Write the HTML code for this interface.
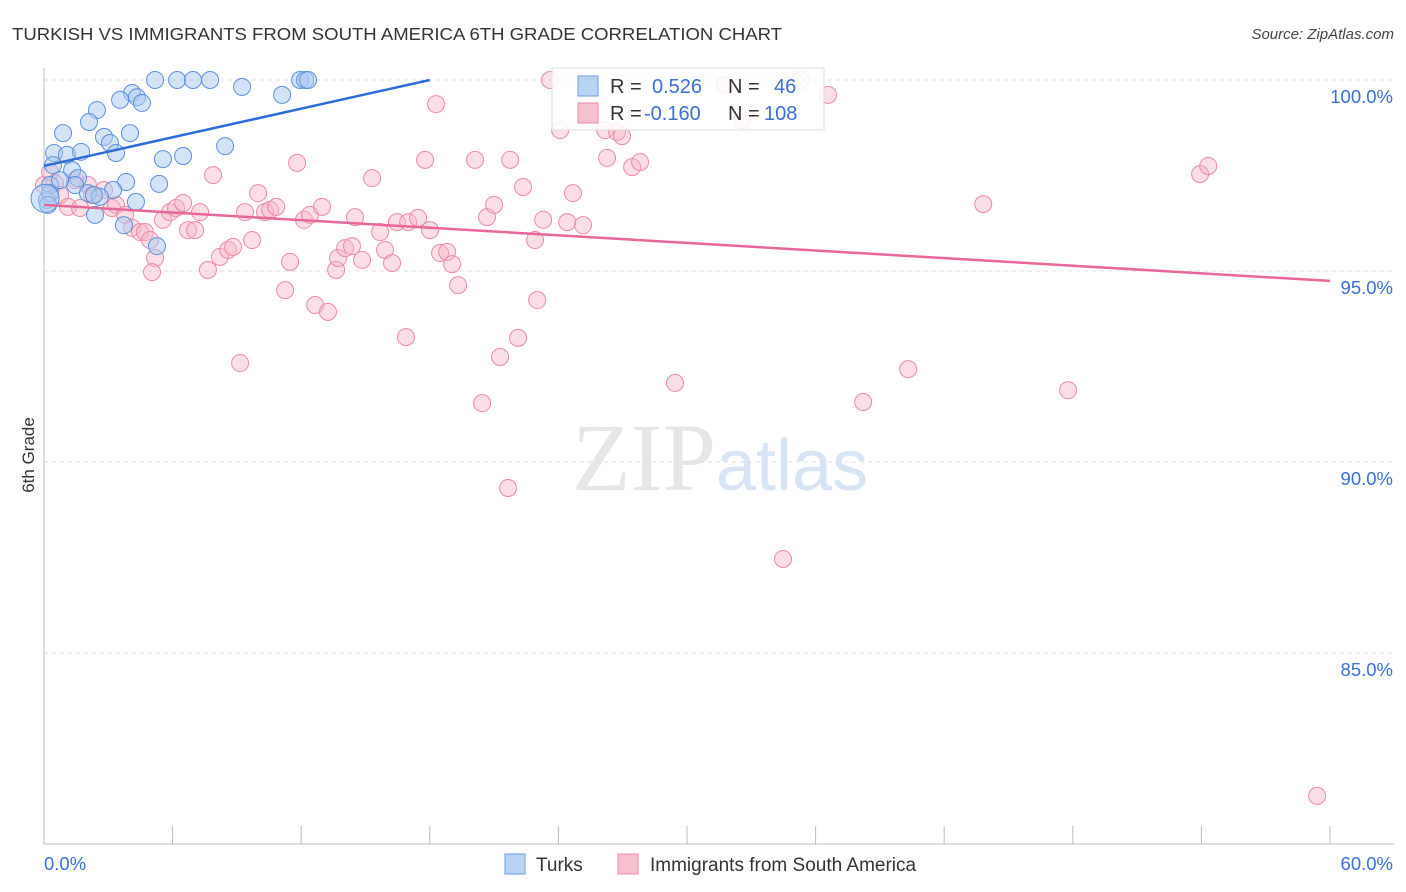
<!DOCTYPE html>
<html><head><meta charset="utf-8"><style>
body{margin:0;background:#fff;font-family:"Liberation Sans",sans-serif;}
svg{display:block}
</style></head><body>
<svg width="1406" height="892" xmlns="http://www.w3.org/2000/svg" id="chart">
<text x="12" y="40" font-size="17.5" fill="#333" textLength="770" lengthAdjust="spacingAndGlyphs">TURKISH VS IMMIGRANTS FROM SOUTH AMERICA 6TH GRADE CORRELATION CHART</text>
<text x="1394" y="39" font-size="15" fill="#444" font-style="italic" text-anchor="end">Source: ZipAtlas.com</text>
<text x="716" y="490" font-size="96" fill="#e6e6e6" text-anchor="end" font-family="Liberation Serif">ZIP</text>
<text x="716" y="490" font-size="72" fill="#d6e4f5">atlas</text>
<g id="grid"></g>
<g id="axes"></g>
<g id="pts"></g>
<g id="lines"></g>
<text x="34" y="455" font-size="17" fill="#333" text-anchor="middle" transform="rotate(-90 34 455)">6th Grade</text>
<g>
<rect x="552" y="68" width="272" height="62" fill="#fff" fill-opacity="0.85" stroke="#ddd"/>
<rect x="578" y="76" width="20" height="20" fill="#b8d4f5" stroke="#6a9de0"/>
<rect x="578" y="103" width="20" height="20" fill="#f9c0d0" stroke="#ec8aa8"/>
<text x="610" y="93" font-size="20" fill="#333">R =</text>
<text x="652" y="93" font-size="20" fill="#3a6fd8">0.526</text>
<text x="728" y="93" font-size="20" fill="#333">N =</text>
<text x="774" y="93" font-size="20" fill="#3a6fd8">46</text>
<text x="610" y="120" font-size="20" fill="#333">R =</text>
<text x="644" y="120" font-size="20" fill="#3a6fd8">-0.160</text>
<text x="728" y="120" font-size="20" fill="#333">N =</text>
<text x="764" y="120" font-size="20" fill="#3a6fd8">108</text>
</g>
<g>
<rect x="505" y="854" width="20" height="20" fill="#b8d4f5" stroke="#6a9de0"/>
<text x="536" y="871" font-size="19" fill="#333">Turks</text>
<rect x="618" y="854" width="20" height="20" fill="#f9c0d0" stroke="#ec8aa8"/>
<text x="650" y="871" font-size="19" fill="#333">Immigrants from South America</text>
</g>
</svg>
<script>
const yTicks=[100,95,90,85];
const yTickLabels=["100.0%","95.0%","90.0%","85.0%"];
const xTickVals=[0,6,12,18,24,30,36,42,48,54,60];
const xEndLabels=["0.0%","60.0%"];
const blueX=[5.18,6.21,6.95,7.75,11.95,12.18,12.32,9.24,11.11,4.11,4.34,4.57,3.55,2.47,2.10,0.89,4.01,2.80,3.08,3.36,0.47,1.07,1.73,5.55,6.49,8.45,0.42,1.31,1.59,1.45,0.28,5.37,3.83,3.22,2.05,2.61,2.33,4.29,2.38,3.73,5.27,0.14,0.28,0.75,0.19,0.05];
const blueY=[100,100,100,100,100,100,100,99.82,99.61,99.66,99.55,99.40,99.48,99.21,98.90,98.61,98.61,98.51,98.35,98.09,98.09,98.04,98.12,97.93,98.01,98.27,97.77,97.64,97.43,97.25,97.25,97.28,97.33,97.12,97.04,96.94,96.99,96.81,96.47,96.20,95.65,96.86,97.04,97.38,96.73,96.90];
const pinkX=[0,0.28,0.51,0.75,1.12,1.45,1.68,2.05,2.24,2.80,3.17,3.36,3.78,4.11,4.48,4.71,4.95,5.18,5.04,5.55,5.88,6.16,6.49,6.72,7.05,7.28,7.65,7.89,8.21,8.59,8.82,9.15,9.38,9.71,9.99,10.31,10.55,10.83,11.25,11.48,11.81,12.13,12.41,12.65,12.97,13.25,13.63,13.72,14.05,14.37,14.51,14.84,15.31,15.68,15.91,16.24,16.47,16.99,17.45,17.78,18.01,16.89,18.29,18.48,18.81,19.04,19.32,20.11,20.44,20.67,21.00,21.28,21.65,21.75,22.12,22.35,22.91,23.01,23.29,23.61,24.08,24.41,24.68,25.15,26.18,26.27,26.74,26.97,27.44,27.81,29.44,31.78,32.57,34.48,35.28,36.58,38.22,40.32,43.82,47.78,53.94,54.32,59.40];
const pinkY=[97.25,97.59,97.30,96.99,96.68,97.38,96.65,97.25,96.99,97.12,96.65,96.73,96.47,96.13,96.02,96.02,95.81,95.34,94.97,96.34,96.54,96.65,96.78,96.07,96.07,96.54,95.03,97.51,95.37,95.55,95.63,92.59,96.54,95.81,97.04,96.54,96.60,96.68,94.50,95.24,97.83,96.34,96.47,94.11,96.68,93.93,95.03,95.34,95.60,95.65,96.41,95.29,97.43,96.02,95.55,95.21,96.28,96.28,96.39,97.91,96.07,93.27,99.37,95.47,95.50,95.18,94.63,97.91,91.54,96.41,96.73,92.75,89.32,97.91,93.25,97.20,95.81,94.24,96.34,100,98.69,96.28,97.04,96.20,98.69,97.96,98.64,98.53,97.72,97.85,92.07,99.87,98.95,87.46,100,99.61,91.57,92.43,96.75,91.88,97.54,97.75,81.26];
const blueLine=[[0,97.75],[18.0,100]];
const pinkLine=[[0,96.73],[60,94.74]];
const NS="http://www.w3.org/2000/svg";
const X0=44,X1=1330,Y0=80,YB=844;
function sx(v){return X0+(v/60)*(X1-X0);}
function sy(v){return Y0+(100-v)/20*(YB-Y0);}
function mk(t,a,p){const e=document.createElementNS(NS,t);for(const k in a)e.setAttribute(k,a[k]);p.appendChild(e);return e;}
const grid=document.getElementById('grid'),axes=document.getElementById('axes'),pts=document.getElementById('pts'),lines=document.getElementById('lines');
yTicks.forEach((v,i)=>{
 const l=mk('line',{x1:X0,x2:1394,y1:sy(v),y2:sy(v),stroke:'#ddd','stroke-dasharray':'4,4'},grid);
 
 
 const t=mk('text',{x:1393,y:sy(v)+23,'font-size':18.5,fill:'#3a6fd8','text-anchor':'end'},axes);
 t.textContent=yTickLabels[i];
 
 
});
const ya=mk('line',{x1:X0,x2:X0,y1:68,y2:YB,stroke:'#bbb'},axes);


const xa=mk('line',{x1:X0,x2:1394,y1:YB,y2:YB,stroke:'#bbb'},axes);


xTickVals.forEach(v=>{
 const l=mk('line',{x1:sx(v),x2:sx(v),y1:826,y2:YB,stroke:'#bbb'},axes);
 
 
});
const t0=mk('text',{x:44,y:870,'font-size':18.5,fill:'#3a6fd8'},axes);t0.textContent=xEndLabels[0];


const t1=mk('text',{x:1393,y:870,'font-size':18.5,fill:'#3a6fd8','text-anchor':'end'},axes);t1.textContent=xEndLabels[1];


pinkX.forEach((x,i)=>{
 const c=mk('circle',{cx:sx(x),cy:sy(pinkY[i]),r:8.5,fill:'#f7b6c8','fill-opacity':0.45,stroke:'#ec8aa8','stroke-width':1},pts);
 
 
});
blueX.forEach((x,i)=>{
 const c=mk('circle',{cx:sx(x),cy:sy(blueY[i]),r:i==blueX.length-1?14:8.5,fill:'#a9c9f2','fill-opacity':0.5,stroke:'#5a90dc','stroke-width':1},pts);
 
 
});
const bl=mk('line',{x1:sx(blueLine[0][0]),y1:sy(blueLine[0][1]),x2:sx(blueLine[1][0]),y2:sy(blueLine[1][1]),stroke:'#2a6dd6','stroke-width':2.5},lines);


const pl=mk('line',{x1:sx(pinkLine[0][0]),y1:sy(pinkLine[0][1]),x2:sx(pinkLine[1][0]),y2:sy(pinkLine[1][1]),stroke:'#e8669a','stroke-width':2.5},lines);


</script>
</body></html>
